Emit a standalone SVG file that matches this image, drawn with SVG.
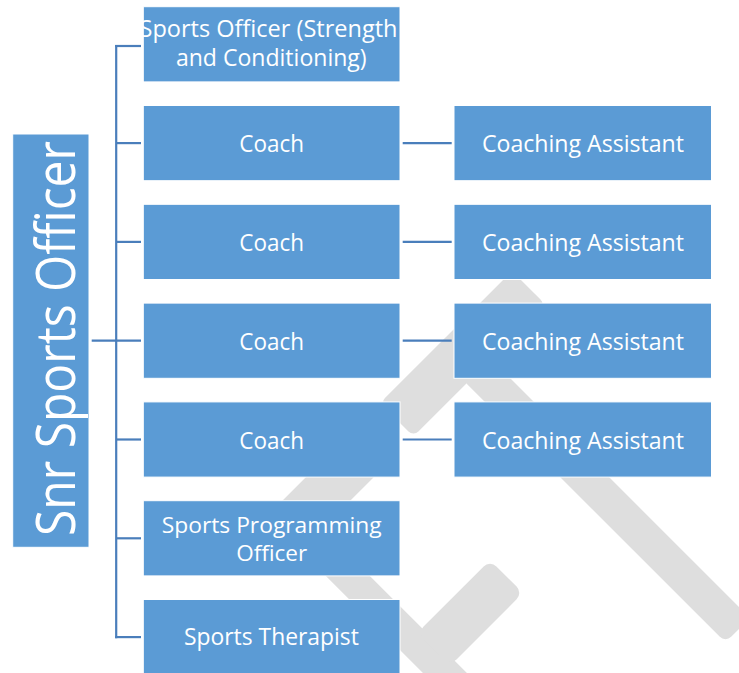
<svg xmlns="http://www.w3.org/2000/svg" width="739" height="673" viewBox="0 0 739 673">
  <defs>
    <style>
      .bg { fill: #ffffff; }
      .mark { fill: #dedede; }
      .box { fill: #5b9bd5; stroke: #ffffff; stroke-width: 1; }
      .lbl { fill: #ffffff; font-family: "Open Sans", "Noto Sans", "DejaVu Sans", sans-serif; font-size: 24px; text-anchor: middle; }
      .two { font-size: 23px; }
      .tight { font-size: 22px; }
      .root-lbl { font-size: 55px; }
      .link { stroke: #4a7ebb; stroke-width: 2.2; fill: none; }
    </style>
  </defs>

  <rect class="bg" x="0" y="0" width="739" height="673"/>

  <!-- faint tool artwork behind the chart (45 degree frame: u = (x+y)/sqrt2, v = (y-x)/sqrt2) -->
  <g id="backdrop" transform="rotate(45)">
    <rect class="mark" x="553.7" y="-170.4" width="47.3" height="186.7" rx="7"/>
    <rect class="mark" x="594" y="-93.3" width="373.3" height="34.6" rx="8"/>
    <rect class="mark" x="553.7" y="67.2" width="48" height="148.5" rx="7"/>
    <rect class="mark" x="597" y="145.7" width="463" height="31.1" rx="6"/>
    <rect class="mark" x="742.5" y="49.5" width="46.6" height="103" rx="9"/>
  </g>

  <!-- connectors -->
  <g id="connectors">
    <line class="link" x1="91.7" y1="340.7" x2="141" y2="340.7"/>
    <line class="link" x1="116.2" y1="45" x2="116.2" y2="638.2"/>
    <line class="link" x1="115.1" y1="46" x2="141" y2="46"/>
    <line class="link" x1="116.2" y1="143.1" x2="141" y2="143.1"/>
    <line class="link" x1="116.2" y1="241.9" x2="141" y2="241.9"/>
    <line class="link" x1="116.2" y1="439.5" x2="141" y2="439.5"/>
    <line class="link" x1="116.2" y1="538.3" x2="141" y2="538.3"/>
    <line class="link" x1="115.1" y1="637.1" x2="141" y2="637.1"/>
    <line class="link" x1="402.7" y1="143.1" x2="451.7" y2="143.1"/>
    <line class="link" x1="402.7" y1="241.9" x2="451.7" y2="241.9"/>
    <line class="link" x1="402.7" y1="340.7" x2="451.7" y2="340.7"/>
    <line class="link" x1="402.7" y1="439.5" x2="451.7" y2="439.5"/>
  </g>

  <!-- root -->
  <g id="snr-sports-officer">
    <rect class="box" x="12.7" y="134" width="76.3" height="413.3"/>
    <text class="lbl root-lbl" transform="translate(75,338.4) rotate(-90)" x="0" y="0" textLength="395" lengthAdjust="spacingAndGlyphs">Snr Sports Officer</text>
  </g>

  <!-- left column -->
  <g id="sports-officer-sc">
    <rect class="box" x="143.3" y="6.7" width="256.7" height="75.2"/>
    <text class="lbl two" x="268.5" y="36.7" textLength="258" lengthAdjust="spacingAndGlyphs">Sports Officer (Strength</text>
    <text class="lbl two" x="271.3" y="65.7" textLength="190.7" lengthAdjust="spacingAndGlyphs">and Conditioning)</text>
  </g>
  <g id="coach-1">
    <rect class="box" x="143.3" y="105.5" width="256.7" height="75.2"/>
    <text class="lbl" x="271.6" y="152.2" textLength="64.7" lengthAdjust="spacingAndGlyphs">Coach</text>
  </g>
  <g id="coach-2">
    <rect class="box" x="143.3" y="204.3" width="256.7" height="75.2"/>
    <text class="lbl" x="271.6" y="251" textLength="64.7" lengthAdjust="spacingAndGlyphs">Coach</text>
  </g>
  <g id="coach-3">
    <rect class="box" x="143.3" y="303.1" width="256.7" height="75.2"/>
    <text class="lbl" x="271.6" y="349.8" textLength="64.7" lengthAdjust="spacingAndGlyphs">Coach</text>
  </g>
  <g id="coach-4">
    <rect class="box" x="143.3" y="401.9" width="256.7" height="75.2"/>
    <text class="lbl" x="271.6" y="448.6" textLength="64.7" lengthAdjust="spacingAndGlyphs">Coach</text>
  </g>
  <g id="sports-programming-officer">
    <rect class="box" x="143.3" y="500.7" width="256.7" height="75.2"/>
    <text class="lbl tight" x="271.7" y="532.6" textLength="220" lengthAdjust="spacingAndGlyphs">Sports Programming</text>
    <text class="lbl tight" x="271.7" y="560.8" textLength="71" lengthAdjust="spacingAndGlyphs">Officer</text>
  </g>
  <g id="sports-therapist">
    <rect class="box" x="143.3" y="599.5" width="256.7" height="75.2"/>
    <text class="lbl" x="271.4" y="645" textLength="175" lengthAdjust="spacingAndGlyphs">Sports Therapist</text>
  </g>

  <!-- right column -->
  <g id="coaching-assistant-1">
    <rect class="box" x="454" y="105.5" width="257.5" height="75.2"/>
    <text class="lbl" x="583" y="152.2" textLength="202" lengthAdjust="spacingAndGlyphs">Coaching Assistant</text>
  </g>
  <g id="coaching-assistant-2">
    <rect class="box" x="454" y="204.3" width="257.5" height="75.2"/>
    <text class="lbl" x="583" y="251" textLength="202" lengthAdjust="spacingAndGlyphs">Coaching Assistant</text>
  </g>
  <g id="coaching-assistant-3">
    <rect class="box" x="454" y="303.1" width="257.5" height="75.2"/>
    <text class="lbl" x="583" y="349.8" textLength="202" lengthAdjust="spacingAndGlyphs">Coaching Assistant</text>
  </g>
  <g id="coaching-assistant-4">
    <rect class="box" x="454" y="401.9" width="257.5" height="75.2"/>
    <text class="lbl" x="583" y="448.6" textLength="202" lengthAdjust="spacingAndGlyphs">Coaching Assistant</text>
  </g>
</svg>
